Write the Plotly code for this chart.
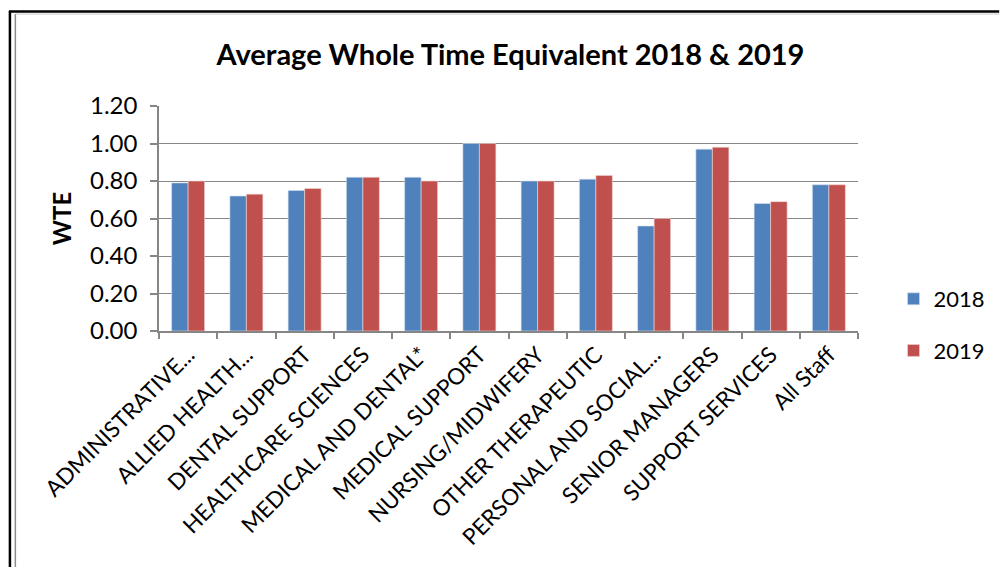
import plotly.graph_objects as go

categories = [
    "ADMINISTRATIVE...", "ALLIED HEALTH...", "DENTAL SUPPORT", "HEALTHCARE SCIENCES",
    "MEDICAL AND DENTAL*", "MEDICAL SUPPORT", "NURSING/MIDWIFERY", "OTHER THERAPEUTIC",
    "PERSONAL AND SOCIAL...", "SENIOR MANAGERS", "SUPPORT SERVICES", "All Staff",
]
wte_2018 = [0.79, 0.72, 0.75, 0.82, 0.82, 1.00, 0.80, 0.81, 0.56, 0.97, 0.68, 0.78]
wte_2019 = [0.80, 0.73, 0.76, 0.82, 0.80, 1.00, 0.80, 0.83, 0.60, 0.98, 0.69, 0.78]
y_ticks = [0.0, 0.2, 0.4, 0.6, 0.8, 1.0, 1.2]

W, H = 1003, 567
ML, MR, MT, MB = 159, 136, 106, 236
PW, PH = W - ML - MR, H - MT - MB
FONT = "Lato"


def px_x(x):
    return (x - ML) / PW


def px_y(y):
    return (H - MB - y) / PH


fig = go.Figure()
fig.add_trace(go.Bar(name="2018", x=categories, y=wte_2018, legendgroup="a",
                     marker=dict(color="#4F81BD", line=dict(color="#D6E0EE", width=0.6))))
fig.add_trace(go.Bar(name="2019", x=categories, y=wte_2019, legendgroup="b",
                     marker=dict(color="#C0504D", line=dict(color="#F0D6D5", width=0.6))))

fig.update_layout(
    width=W, height=H,
    margin=dict(l=ML, r=MR, t=MT, b=MB, pad=0),
    paper_bgcolor="white", plot_bgcolor="white",
    barmode="group", bargap=0.434, bargroupgap=0,
    font=dict(family=FONT, color="#000000"),
    title=dict(text="<b>Average Whole Time Equivalent 2018 &amp; 2019</b>",
               font=dict(size=29, family=FONT, color="#000"),
               x=px_x(515), xref="paper", xanchor="center",
               y=1 - 55 / H, yanchor="middle"),
    showlegend=True,
    legend=dict(x=px_x(903), xanchor="left", y=px_y(325), yanchor="middle",
                font=dict(size=22, family=FONT, color="#000"),
                tracegroupgap=20, itemwidth=30, bgcolor="rgba(0,0,0,0)"),
    xaxis=dict(
        tickangle=-45, tickfont=dict(size=22.5, family=FONT, color="#000"),
        showline=True, linecolor="#868686", linewidth=1.5,
        ticks="outside", tickson="boundaries", ticklen=6, tickcolor="#868686",
        tickwidth=1.5, showgrid=False,
    ),
    yaxis=dict(
        range=[0, 1.2], tickvals=y_ticks, ticktext=[f"{v:.2f}" for v in y_ticks],
        tickfont=dict(size=24, family=FONT, color="#000"),
        ticklabelstandoff=8,
        showline=True, linecolor="#868686", linewidth=1.5,
        ticks="outside", ticklen=7, tickcolor="#868686", tickwidth=1.5,
        showgrid=True, gridcolor="#868686", gridwidth=1.2,
        zeroline=False,
        title=dict(text="<b>WTE</b>", font=dict(size=24, family=FONT, color="#000"),
                   standoff=12),
    ),
)

# outer chart frame: black border with a thin grey inner line
shapes = [
    dict(type="line", xref="paper", yref="paper", x0=px_x(8), x1=px_x(8),
         y0=px_y(11), y1=px_y(580), line=dict(color="#000", width=2.5)),
    dict(type="line", xref="paper", yref="paper", x0=px_x(7), x1=px_x(1010),
         y0=px_y(11.5), y1=px_y(11.5), line=dict(color="#000", width=2.5)),
    dict(type="line", xref="paper", yref="paper", x0=px_x(13.5), x1=px_x(13.5),
         y0=px_y(14), y1=px_y(580), line=dict(color="#8C8C8C", width=1.5)),
    dict(type="line", xref="paper", yref="paper", x0=px_x(13.5), x1=px_x(1010),
         y0=px_y(14), y1=px_y(14), line=dict(color="#C8C8C8", width=1)),
]
fig.update_layout(shapes=shapes)

fig.write_html("out.html")
